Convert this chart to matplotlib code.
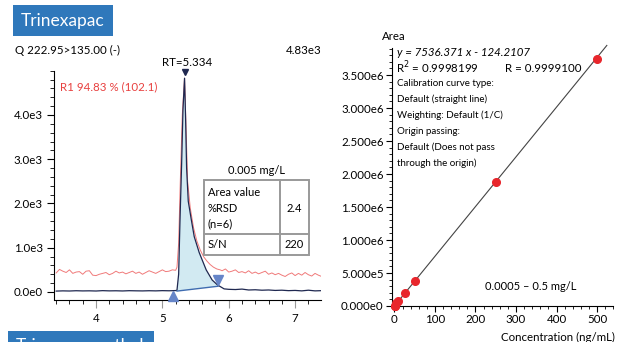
import matplotlib
matplotlib.use("Agg")
import matplotlib.pyplot as plt
from matplotlib.patches import Rectangle, Polygon
from matplotlib.ticker import MultipleLocator, FixedLocator

plt.rcParams["font.family"] = ["Lato", "DejaVu Sans"]
plt.rcParams["font.size"] = 8.3

# ---- chromatogram (Q 222.95>135.00) --------------------------------------
t_black = [3.4, 3.5, 3.6, 3.7, 3.8, 3.9, 4.0, 4.1, 4.2, 4.3, 4.4, 4.5, 4.6,
           4.7, 4.8, 4.9, 5.0, 5.1, 5.2,
           5.22, 5.245, 5.265, 5.29, 5.31, 5.334, 5.35, 5.365, 5.39, 5.435,
           5.48, 5.555, 5.66, 5.75, 5.83, 5.93,
           6.0, 6.1, 6.2, 6.3, 6.4, 6.5, 6.6, 6.7, 6.8, 6.9, 7.0, 7.1, 7.2,
           7.3, 7.4]
i_black = [20, 25, 22, 28, 24, 26, 22, 30, 25, 27, 23, 29, 26, 24, 28, 25,
           30, 27, 32,
           40, 400, 1600, 2900, 4100, 4830, 3900, 2800, 2050, 1640,
           1250, 890, 500, 270, 160, 70,
           60, 55, 65, 45, 50, 40, 45, 35, 40, 30, 35, 25, 40, 25, 30]

t_red = [3.40, 3.45, 3.50, 3.55, 3.60, 3.65, 3.70, 3.75, 3.80, 3.85, 3.90,
         3.95, 4.00, 4.05, 4.10, 4.15, 4.20, 4.25, 4.30, 4.35, 4.40, 4.45,
         4.50, 4.55, 4.60, 4.65, 4.70, 4.75, 4.80, 4.85, 4.90, 4.95, 5.00,
         5.05, 5.10, 5.15, 5.20,
         5.22, 5.245, 5.27, 5.30, 5.334, 5.355, 5.38, 5.42, 5.47, 5.52,
         5.57, 5.62, 5.67, 5.72, 5.77, 5.82, 5.87,
         5.90, 5.95, 6.00, 6.05, 6.10, 6.15, 6.20, 6.25, 6.30, 6.35, 6.40,
         6.45, 6.50, 6.55, 6.60, 6.65, 6.70, 6.75, 6.80, 6.85, 6.90, 6.95,
         7.00, 7.05, 7.10, 7.15, 7.20, 7.25, 7.30, 7.35, 7.40]
i_red = [430, 510, 470, 440, 500, 420, 450, 460, 400, 470, 480,
         380, 370, 400, 420, 440, 390, 420, 470, 430, 450, 410,
         440, 470, 420, 450, 400, 440, 480, 450, 420, 460, 500,
         460, 470, 500, 490,
         560, 1100, 2500, 4000, 4830, 3800, 2500, 1900, 1450, 1150,
         950, 800, 700, 620, 560, 520, 500,
         480, 520, 450, 470, 500, 440, 460, 430, 480, 420, 450,
         410, 440, 470, 400, 430, 390, 420, 380, 350, 400, 430,
         370, 420, 380, 440, 390, 360, 420, 380, 350]

peak_start = (5.22, 20)
peak_end = (5.84, 130)
rt_apex = 5.334

# ---- calibration curve -----------------------------------------------------
conc = [0.5, 1, 5, 10, 25, 50, 250, 500]
area = [3.6e3, 7.5e3, 3.8e4, 7.5e4, 1.9e5, 3.78e5, 1.88e6, 3.74e6]
slope, intercept = 7536.371, -124.2107
line_x = [0, 524]

NAVY = "#1f2850"
PINK = "#f07a7a"
FILL = "#d2eaf2"
MARK = "#6685c8"
BOXBLUE = "#2f78bb"
DOTRED = "#e8262c"

fig = plt.figure(figsize=(6.25, 3.42), dpi=100)

# ---------------------------------------------------------------- left panel
ax = fig.add_axes([54 / 625, 42.5 / 342, 267 / 625, 228.8 / 342])
ax.plot(t_red, i_red, color=PINK, lw=0.7, zorder=2)
ax.plot(t_black, i_black, color=NAVY, lw=0.9, zorder=4)
poly = [(t, v) for t, v in zip(t_black, i_black)
        if peak_start[0] <= t <= peak_end[0]]
poly += [peak_end, peak_start]
ax.add_patch(Polygon(poly, closed=True, facecolor=FILL, edgecolor="none",
                     zorder=3))
ax.plot([peak_start[0], peak_end[0]], [peak_start[1], peak_end[1]],
        color="#3f6cb0", lw=1.0, zorder=5)
ax.plot([5.16], [-95], marker="^", color=MARK, ms=6.5, clip_on=False,
        zorder=6)
ax.plot([peak_end[0]], [265], marker="v", color=MARK, ms=6.5, zorder=6)
ax.plot([rt_apex], [4960], marker="v", color=NAVY, ms=4, clip_on=False,
        zorder=6)

ax.set_xlim(3.367, 7.39)
ax.set_ylim(-170, 5000)
for s in ["top", "right"]:
    ax.spines[s].set_visible(False)
ax.xaxis.set_major_locator(FixedLocator([4, 5, 6, 7]))
ax.xaxis.set_minor_locator(MultipleLocator(0.2))
ax.yaxis.set_major_locator(FixedLocator([0, 1000, 2000, 3000, 4000]))
ax.yaxis.set_minor_locator(MultipleLocator(200))
ax.set_yticklabels(["0.0e0", "1.0e3", "2.0e3", "3.0e3", "4.0e3"])
ax.tick_params(axis="x", which="major", length=6, color="#999999", pad=4)
ax.tick_params(axis="y", which="major", length=5, pad=3)
ax.tick_params(which="minor", length=3)

# --------------------------------------------------------------- right panel
bx = fig.add_axes([392 / 625, 36 / 342, 221.3 / 625, 258 / 342])
bx.plot(line_x, [slope * x + intercept for x in line_x], color="#444444",
        lw=0.8, clip_on=False, zorder=2)
bx.plot(conc, area, "o", color=DOTRED, ms=5.5, clip_on=False, zorder=3)
bx.set_xlim(-6, 540)
bx.set_ylim(0, 3.91e6)
for s in ["top", "right"]:
    bx.spines[s].set_visible(False)
bx.xaxis.set_major_locator(MultipleLocator(100))
bx.xaxis.set_minor_locator(MultipleLocator(20))
bx.yaxis.set_major_locator(MultipleLocator(5e5))
bx.yaxis.set_minor_locator(MultipleLocator(1e5))
bx.set_yticks([0, 5e5, 1e6, 1.5e6, 2e6, 2.5e6, 3e6, 3.5e6])
bx.set_yticklabels(["0.000e0", "5.000e5", "1.000e6", "1.500e6", "2.000e6",
                    "2.500e6", "3.000e6", "3.500e6"])
bx.tick_params(which="major", length=4, pad=2)
bx.tick_params(which="minor", length=2.5)

# ------------------------------------------------------- text overlay (px)
ov = fig.add_axes([0, 0, 1, 1])
ov.set_xlim(0, 625)
ov.set_ylim(342, 0)
ov.axis("off")
ov.patch.set_visible(False)

ov.add_patch(Rectangle((13, 5), 100, 31, facecolor=BOXBLUE, edgecolor="none"))
ov.text(63, 21, "Trinexapac", color="white", fontsize=12.5, ha="center",
        va="center")
# next panel's header box, cut off at the bottom edge as in the source
ov.add_patch(Rectangle((8, 331), 146, 14, facecolor=BOXBLUE,
                       edgecolor="none"))
ov.text(16, 338.5, "Trinexapac-ethyl", color="white", fontsize=12.5,
        ha="left", va="top")

ov.text(15, 50, "Q 222.95>135.00 (-)", fontsize=8.3, va="center")
ov.text(322, 50, "4.83e3", fontsize=8.3, va="center", ha="right")
ov.text(187, 62, "RT=5.334", fontsize=8.3, va="center", ha="center")
ov.text(60, 87, "R1 94.83 % (102.1)", fontsize=8.3, va="center",
        color="#e8403f")

# area / S/N table
ov.text(257, 170, "0.005 mg/L", fontsize=8, ha="center", va="center")
tb = dict(color="#999999", lw=1.4)
ov.add_patch(Rectangle((204, 179.5), 105, 75.5, fill=False,
                       edgecolor="#999999", lw=1.4))
ov.plot([280, 280], [179.5, 255], **tb)
ov.plot([204, 309], [233.5, 233.5], **tb)
ov.text(208, 192, "Area value", fontsize=8, va="center")
ov.text(208, 208, "%RSD", fontsize=8, va="center")
ov.text(208, 224, "(n=6)", fontsize=8, va="center")
ov.text(294.5, 208, "2.4", fontsize=8, va="center", ha="center")
ov.text(208, 245, "S/N", fontsize=8, va="center")
ov.text(294.5, 245, "220", fontsize=8, va="center", ha="center")

# calibration annotations
ov.text(382, 37, "Area", fontsize=8.3, va="center")
ov.text(397, 53, "y = 7536.371 x - 124.2107", fontsize=8.3, va="center",
        style="italic")
ov.text(396, 68, "R$^2$ = 0.9998199", fontsize=8.3, va="center")
ov.text(505, 68, "R = 0.9999100", fontsize=8.3, va="center")
cal_notes = ["Calibration curve type:", "Default (straight line)",
             "Weighting: Default (1/C)", "Origin passing:",
             "Default (Does not pass", "through the origin)"]
for k, line in enumerate(cal_notes):
    ov.text(397, 83 + k * 16.1, line, fontsize=7, va="center")
ov.text(485, 287, "0.0005 \u2013 0.5 mg/L", fontsize=8, va="center")
ov.text(615, 337, "Concentration (ng/mL)", fontsize=8.3, va="center",
        ha="right")

fig.savefig("out.png", dpi=100)
